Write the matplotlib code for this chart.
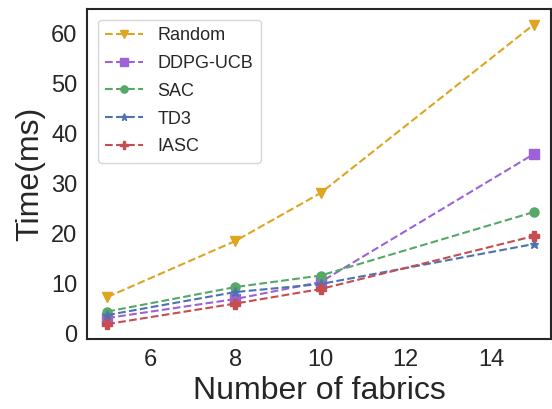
import matplotlib
matplotlib.use("Agg")
import matplotlib.pyplot as plt
import seaborn as sns

# dane
fabrics = [5, 8, 10, 15]
random_t = [7.2, 18.4, 28.0, 61.7]
ddpg_ucb_t = [3.0, 6.8, 10.2, 35.8]
sac_t = [4.3, 9.2, 11.5, 24.2]
td3_t = [3.6, 8.2, 9.8, 17.8]
iasc_t = [1.8, 5.9, 8.8, 19.4]

labels = ["Random", "DDPG-UCB", "SAC", "TD3", "IASC"]

sns.set_style("white")
plt.rcParams['font.family'] = ['Liberation Sans', 'DejaVu Sans']

fig = plt.figure(figsize=(5.52, 4.09), dpi=100)
ax = fig.add_axes([0.158, 0.171, 0.84, 0.807])

series = [random_t, ddpg_ucb_t, sac_t, td3_t, iasc_t]
colors = ["#DDA520", "#9D62D8", "#55A868", "#4C72B0", "#C44E52"]
markers = ["v", "s", "o", "*", "P"]

for vals, lab, c, m in zip(series, labels, colors, markers):
    ax.plot(fabrics, vals, linestyle="--", marker=m, color=c, label=lab,
            markersize=6.5, linewidth=1.5)

ax.set_xlim(4.53, 15.4)
ax.set_ylim(-1.2, 64.8)
ax.set_xticks([6, 8, 10, 12, 14])
ax.set_yticks([0, 10, 20, 30, 40, 50, 60])
ax.tick_params(labelsize=17)
ax.set_xlabel("Number of fabrics", fontsize=23)
ax.set_ylabel("Time(ms)", fontsize=23)
for s in ax.spines.values():
    s.set_color("#262626")
    s.set_linewidth(1.5)

ax.legend(loc="upper left", fontsize=13, frameon=True, markerscale=0.8,
          borderaxespad=0.6, labelspacing=0.6, handlelength=2.1)

fig.savefig("out.png", dpi=100)
